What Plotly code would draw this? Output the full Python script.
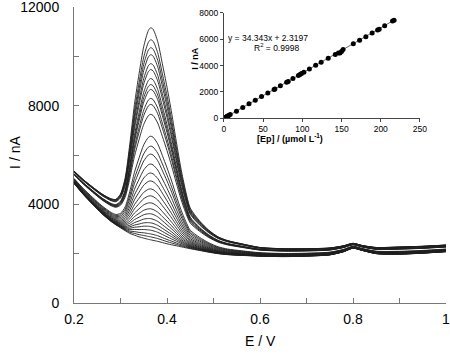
import numpy as np
import plotly.graph_objects as go

# ---- main voltammograms ----
E = [0.20, 0.22, 0.24, 0.26, 0.28, 0.29, 0.30, 0.31, 0.32, 0.33, 0.34, 0.35, 0.36, 0.365, 0.37,
     0.38, 0.39, 0.40, 0.41, 0.42, 0.43, 0.44, 0.45, 0.47, 0.49, 0.51, 0.53, 0.56, 0.60, 0.65,
     0.70, 0.75, 0.78, 0.80, 0.82, 0.85, 0.90, 0.95, 1.00]
# highest curve
I_high = [5350, 5000, 4700, 4420, 4220, 4200, 4420, 5070, 6440, 8050, 9300, 10400, 11050, 11160, 11100,
          10600, 9700, 8750, 7700, 6550, 5450, 4550, 3850, 3330, 2950, 2680, 2530, 2400, 2250, 2200,
          2200, 2230, 2320, 2420, 2330, 2250, 2270, 2300, 2350]
# background under the highest curve
I_base_high = [5350, 5000, 4700, 4420, 4200, 4120, 4050, 3980, 3920, 3860, 3800, 3740, 3680, 3650, 3620,
               3560, 3480, 3400, 3310, 3220, 3130, 3040, 2960, 2820, 2700, 2600, 2520, 2400, 2250, 2200,
               2200, 2230, 2320, 2420, 2330, 2250, 2270, 2300, 2350]
# lowest curve (blank)
I_low = [4850, 4400, 4000, 3620, 3300, 3170, 3050, 2930, 2820, 2750, 2680, 2630, 2580, 2560, 2540,
         2500, 2450, 2400, 2360, 2320, 2280, 2240, 2200, 2130, 2060, 2000, 1960, 1930, 1900, 1880,
         1900, 1950, 2080, 2220, 2130, 2000, 1980, 2020, 2080]
# apex current of each curve and its background level (0 = blank, 1 = highest)
apex = [11160, 10673, 10350, 10067, 9705, 9463, 9100, 8858, 8657, 8294, 8052, 7649, 6762, 6359, 6036,
        5633, 5270, 4948, 4625, 4343, 4060, 3818, 3617, 3420, 3250, 3100, 2950, 2800, 2680, 2560]
bg_level = [1.0, 1.0, 0.98, 0.96, 0.94, 0.92, 0.8, 0.78, 0.76, 0.74, 0.72, 0.7, 0.4, 0.36, 0.32,
            0.28, 0.24, 0.2, 0.17, 0.14, 0.12, 0.1, 0.08, 0.06, 0.05, 0.04, 0.03, 0.02, 0.01, 0.0]

x_ticks = [0.2, 0.4, 0.6, 0.8, 1.0]
x_ticklabels = ["0.2", "0.4", "0.6", "0.8", "1"]
y_ticks = [0, 4000, 8000, 12000]
y_ticklabels = ["0", "4000", "8000", "12000"]

# ---- inset calibration ----
ep_conc = [0, 0.5, 1, 2, 3, 4, 5, 6, 8, 16, 24, 32, 40, 48, 56, 64, 65, 72, 80, 82, 88, 95, 97, 99,
           102, 109, 117, 124, 133, 142, 146, 148, 150, 152, 165, 173, 181, 189, 196, 198, 205, 215, 217]
ep_current = [0, 20, 40, 70, 100, 140, 170, 210, 280, 540, 820, 1100, 1370, 1650, 1920, 2180, 2230,
              2470, 2730, 2800, 3030, 3240, 3330, 3410, 3500, 3750, 4020, 4250, 4560, 4850, 4960,
              4950, 5080, 5230, 5660, 5930, 6200, 6480, 6700, 6760, 7020, 7380, 7440]
slope, intercept = 34.343, 2.3197

fig = go.Figure()

Ea = np.array(E)
lo = np.array(I_low, float)
bh = np.array(I_base_high, float)
hi = np.array(I_high, float)
ipk = E.index(0.365)
shape = (hi - bh) / (hi[ipk] - bh[ipk])
for a, gl in zip(apex, bg_level):
    base = lo + gl * (bh - lo)
    h = a - base[ipk]
    y = base + h * shape
    fig.add_trace(go.Scatter(x=Ea, y=y, mode="lines", line=dict(color="#1e1e1e", width=0.9, shape="spline", smoothing=0.7),
                             hoverinfo="skip", xaxis="x", yaxis="y"))

# inset
xf = np.array([0, max(ep_conc)])
fig.add_trace(go.Scatter(x=xf, y=slope * xf + intercept, mode="lines", line=dict(color="#666", width=1),
                         xaxis="x2", yaxis="y2"))
fig.add_trace(go.Scatter(x=ep_conc, y=ep_current, mode="markers", marker=dict(color="black", size=5),
                         xaxis="x2", yaxis="y2"))

axcol = "#777"
fig.update_layout(
    width=450, height=356,
    margin=dict(l=74, r=4, t=7, b=53, autoexpand=False),
    paper_bgcolor="white", plot_bgcolor="white",
    showlegend=False,
    font=dict(family="Liberation Sans, Arial, sans-serif", color="black", size=14),
    xaxis=dict(domain=[0, 1], range=[0.2, 1.0], tickvals=x_ticks, ticktext=x_ticklabels, automargin=False,
               ticks="inside", ticklen=5, tickcolor=axcol, ticklabelstandoff=3,
               showline=True, linecolor=axcol, linewidth=1, showgrid=False, zeroline=False,
               ticklabeloverflow="allow",
               minor=dict(tickvals=[0.3, 0.5, 0.7, 0.9], ticks="inside", ticklen=5, tickcolor=axcol),
               tickfont=dict(size=14)),
    yaxis=dict(domain=[0, 1], range=[0, 12000], tickvals=y_ticks, ticktext=y_ticklabels, automargin=False,
               ticks="inside", ticklen=5, tickcolor=axcol, ticklabeloverflow="allow", ticklabelstandoff=11,
               showline=True, linecolor=axcol, linewidth=1, showgrid=False, zeroline=False,
               minor=dict(tickvals=[2000, 6000, 10000], ticks="inside", ticklen=5, tickcolor=axcol),
               tickfont=dict(size=14)),
    xaxis2=dict(domain=[0.403, 0.93], anchor="y2", range=[0, 250], dtick=50, ticks="outside", ticklen=3,
                tickcolor="#444", showline=True, linecolor="#444", linewidth=1, showgrid=False, zeroline=False,
                tickfont=dict(size=8.5), automargin=False),
    yaxis2=dict(domain=[0.624, 0.98], anchor="x2", range=[0, 8000], dtick=2000, ticks="outside", ticklen=3,
                tickcolor="#444", showline=True, linecolor="#444", linewidth=1, showgrid=False, zeroline=False,
                tickfont=dict(size=8.5), automargin=False),
    annotations=[
        dict(text="E / V", x=0.5, y=-0.13, xref="paper", yref="paper", showarrow=False,
             font=dict(size=14), xanchor="center", yanchor="middle"),
        dict(text="I / nA", x=-0.159, y=0.51, xref="paper", yref="paper", showarrow=False,
             font=dict(size=14), textangle=-90, xanchor="center", yanchor="middle"),
        dict(text="<b>[Ep] / (µmol L<sup>-1</sup>)</b>", x=0.58, y=0.556, xref="paper", yref="paper",
             showarrow=False, font=dict(size=9), xanchor="center", yanchor="middle"),
        dict(text="<b>I / nA</b>", x=0.325, y=0.828, xref="paper", yref="paper", showarrow=False,
             font=dict(size=9), textangle=-90, xanchor="center", yanchor="middle"),
        dict(text="y = 34.343x + 2.3197", x=0.521, y=0.920, xref="paper", yref="paper", showarrow=False,
             font=dict(size=8.5)),
        dict(text="R<sup>2</sup> = 0.9998", x=0.545, y=0.889, xref="paper", yref="paper", showarrow=False,
             font=dict(size=8.5)),
    ],
)

fig.write_html("out.html", config={"displayModeBar": False},
               post_script="document.body.style.margin='0px';")
